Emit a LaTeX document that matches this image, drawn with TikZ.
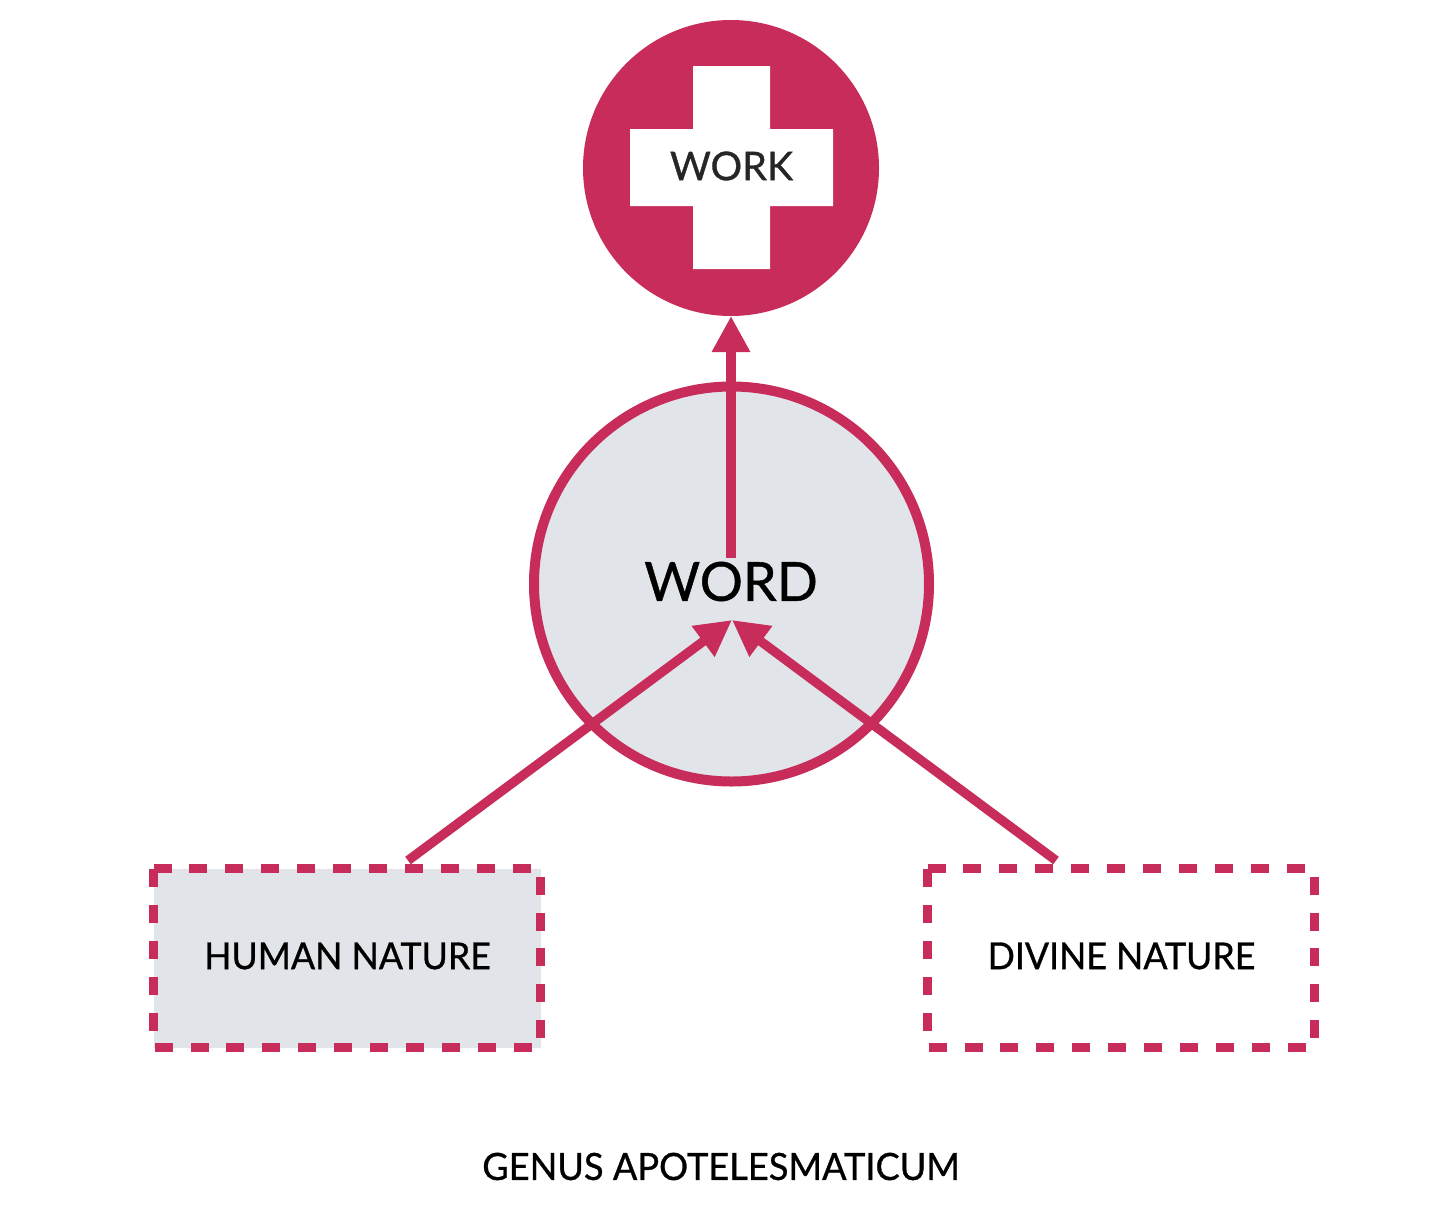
\documentclass[tikz,border=0pt]{standalone}
\usepackage{fontspec}
\setmainfont{Lato}[FakeBold=0.8]
\newfontfamily\boxfont{Lato}[FakeBold=0.8,FakeStretch=0.965]
\usetikzlibrary{arrows.meta,calc,positioning}
\definecolor{crimson}{HTML}{C82C5B}
\definecolor{paleblue}{HTML}{E1E4E9}
\tikzset{
  disc/.style={circle,inner sep=0pt,outer sep=0pt},
  naturebox/.style={rectangle,inner sep=0pt,outer sep=0pt,minimum width=387pt,minimum height=179pt},
  natureedge/.style={draw=crimson,line width=9.3pt,dash pattern=on 18pt off 17.92pt},
  naturetext/.style={font=\boxfont\fontsize{37}{40}\selectfont},
  link/.style={draw=crimson,line width=9.3pt,-{Triangle[length=36pt,width=36pt]}},
}
\begin{document}
\begin{tikzpicture}[x=1pt,y=-1pt]
\useasboundingbox (0,0) rectangle (1450,1216);
\node[disc,fill=crimson,minimum size=296pt] (work) at (731,168) {};
\fill[white] (693,66)--(770,66)--(770,129)--(833,129)--(833,206)--(770,206)--(770,269)--(693,269)--(693,206)--(630,206)--(630,129)--(693,129)--cycle;
\node[text=black!85,font=\fontsize{39.5}{44}\selectfont] (worktext) at (731.5,166) {WORK};
\node[disc,draw=crimson,line width=10pt,fill=paleblue,minimum size=395pt] (word) at (731.5,584) {};
\node[font=\fontsize{54}{58}\selectfont] (wordtext) at (731,581.5) {WORD};
\node[naturebox,fill=paleblue] (human) at (347,958) {};
\node[naturebox] (divine) at (1121,958) {};
\foreach \nature in {human,divine}
  \draw[natureedge] (\nature.north west)--(\nature.north east)--(\nature.south east)--(\nature.south west)--cycle;
\node[naturetext] (humantext) at (347.5,956) {HUMAN NATURE};
\node[naturetext] (divinetext) at (1121.5,956) {DIVINE NATURE};
\node[naturetext,font=\boxfont\fontsize{37.5}{40}\selectfont] (caption) at (721,1166.5) {GENUS APOTELESMATICUM};
\coordinate (wordtop) at (731,558);
\coordinate (wordtip) at (732,620);
\coordinate (humanout) at ($(human.north)+(61,-8)$);
\coordinate (divineout) at ($(divine.north)+(-65,-8)$);
\draw[link] (wordtop)--(work.south);
\draw[link] (humanout)--(wordtip);
\draw[link] (divineout)--(wordtip);
\end{tikzpicture}
\end{document}
